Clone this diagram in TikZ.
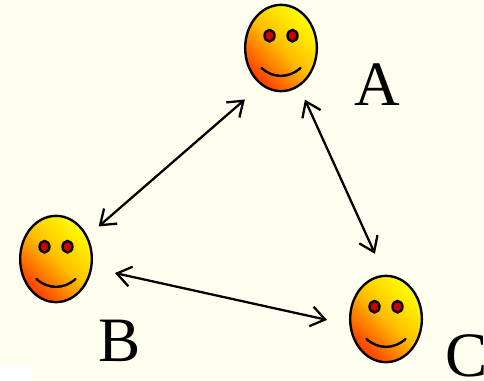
\documentclass[tikz,border=0pt]{standalone}
\usepackage{fontspec}
\setmainfont{Liberation Serif}
\usepackage{xcolor}
\usetikzlibrary{arrows.meta,shapes.geometric,calc}
\definecolor{paper}{RGB}{255,255,240}
\definecolor{faceyellow}{RGB}{255,255,0}
\definecolor{facemid}{RGB}{255,190,0}
\definecolor{facered}{RGB}{255,60,0}
\definecolor{eyered}{RGB}{205,0,0}

\begin{document}
\begin{tikzpicture}[
  x=0.02cm, y=-0.02cm,
  face/.style ={draw, line width=1.35pt, ellipse, inner sep=0pt,
                minimum width=1.434cm, minimum height=1.726cm,
                top color=faceyellow, bottom color=facered, middle color=facemid,
                shading angle=-45},
  eye/.style  ={draw, line width=1.35pt, ellipse, fill=eyered, inner sep=0pt,
                minimum width=0.2cm, minimum height=0.23cm},
  lab/.style  ={inner sep=0pt, font=\fontsize{36}{36}\selectfont},
  arr/.style  ={{Straight Barb[length=0.28cm,width=0.4cm]}-{Straight Barb[length=0.28cm,width=0.4cm]},
                line width=1.3pt}
]

\useasboundingbox (0,0) rectangle (484,381);
\fill[paper] (0,0) rectangle (484,381);
\fill[white] (0,365) rectangle (31,381);

% the three faces
\foreach \who/\px/\py in {A/281/48, B/56/259, C/386/319}{
  \node[face] (\who) at (\px,\py) {};
  \node[eye] (\who eyeL) at ($(\who)+(-11.5,-12.3)$) {};
  \node[eye] (\who eyeR) at ($(\who)+(11.5,-12.3)$) {};
  \draw[line width=1.35pt, line cap=round] ($(\who)+(-19.5,20)$)
      .. controls ($(\who)+(-8,30.5)$) and ($(\who)+(8,30.5)$) .. ($(\who)+(19.5,20)$);
}

\node[lab] (labA) at (377.5,85) {A};
\node[lab] (labB) at (120,340.5) {B};
\node[lab] (labC) at (467,356) {C};

\draw[arr, shorten <=0.43cm, shorten >=0.29cm] (A.242) -- (B.36);
\draw[arr, shorten <=0.284cm, shorten >=0.46cm] (A.295.4) -- (C.92);
\draw[arr, shorten <=0.464cm, shorten >=0.456cm] (B.346) -- (C.189.4);

\end{tikzpicture}
\end{document}
